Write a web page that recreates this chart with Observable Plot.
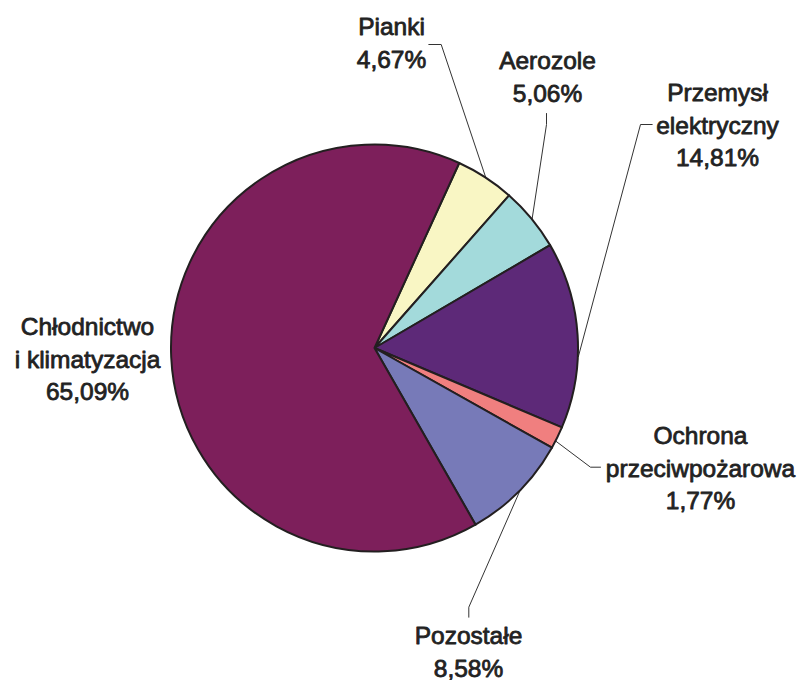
<!DOCTYPE html>
<html>
<head>
<meta charset="utf-8">
<script src="https://cdn.jsdelivr.net/npm/d3@7"></script>
<script src="https://cdn.jsdelivr.net/npm/@observablehq/plot@0.6"></script>
<style>
  html, body { margin: 0; padding: 0; background: #ffffff; }
</style>
</head>
<body>
<div id="chart"></div>
<script>
// Slices in clockwise order, starting just right of 12 o'clock
const categories = ["Pianki", "Aerozole", "Przemysł elektryczny", "Ochrona przeciwpożarowa", "Pozostałe", "Chłodnictwo i klimatyzacja"];
const shares = [4.67, 5.06, 14.81, 1.77, 8.58, 65.09];
const labelLines = [
  ["Pianki"],
  ["Aerozole"],
  ["Przemysł", "elektryczny"],
  ["Ochrona", "przeciwpożarowa"],
  ["Pozostałe"],
  ["Chłodnictwo", "i klimatyzacja"]
];

// Styling
const sliceColors = ["#f9f6c4", "#a3dadb", "#5d2978", "#f07f7f", "#777ab8", "#7d1f5b"];
const outline = "#231f20";
const textColor = "#222222";

// Geometry of the pie in plot units (1 unit = 1 px)
const pieGeom = { cx: 374.5, cy: 348, r: 203.5, startDeg: 24.6 };

// Label placement: text block position (centre x, top y),
// leader polyline running from the label toward the slice, and a small
// angular nudge of the leader's attachment point on the rim
const labelLayout = [
  { x: 391, y: 11.5, leader: [[428.3, 44], [440.7, 44]], nudge: 0 },
  { x: 547, y: 45.3, leader: [[546, 113], [546, 124]], nudge: 0 },
  { x: 717, y: 77.6, leader: [[651.7, 124], [640, 124]], nudge: 6 },
  { x: 700, y: 420.3, leader: [[600, 466.7], [590, 466.7]], nudge: 1 },
  { x: 468, y: 620.6, leader: [[468.3, 616.7], [468.3, 606.7]], nudge: 0 },
  { x: 87, y: 311.6, leader: null, nudge: 0 }
];

const pctFormat = v => v.toFixed(2).replace(".", ",") + "%";

const start = pieGeom.startDeg * Math.PI / 180;
const arcs = d3.pie().sort(null).value(d => d).startAngle(start).endAngle(start + 2 * Math.PI)(shares);

// Label rows
const labels = categories.map((c, i) => ({
  category: c,
  text: [...labelLines[i], pctFormat(shares[i])].join("\n"),
  x: labelLayout[i].x,
  y: labelLayout[i].y
}));

// Leader line vertices, ending on the rim at the slice's mid angle
const leaderRows = [];
categories.forEach((c, i) => {
  const lay = labelLayout[i];
  if (!lay.leader) return;
  lay.leader.forEach(([x, y]) => leaderRows.push({ category: c, x, y }));
  const a = (arcs[i].startAngle + arcs[i].endAngle) / 2 + lay.nudge * Math.PI / 180;
  leaderRows.push({
    category: c,
    x: pieGeom.cx + pieGeom.r * Math.sin(a),
    y: pieGeom.cy - pieGeom.r * Math.cos(a)
  });
});

// Pie slices, positioned through the plot's x/y scales
function pieSlices(index, scales) {
  const cx = scales.x(pieGeom.cx);
  const cy = scales.y(pieGeom.cy);
  const r = scales.x(pieGeom.cx + pieGeom.r) - cx;
  const arcGen = d3.arc().innerRadius(0).outerRadius(r);
  const g = d3.create("svg:g").attr("transform", `translate(${cx},${cy})`);
  g.selectAll("path")
    .data(arcs)
    .join("path")
    .attr("d", arcGen)
    .attr("fill", (d, i) => sliceColors[i])
    .attr("stroke", outline)
    .attr("stroke-width", 2)
    .attr("stroke-linejoin", "round");
  return g.node();
}

const chart = Plot.plot({
  width: 797,
  height: 680,
  margin: 0,
  style: { background: "#ffffff" },
  x: { domain: [0, 797], range: [0, 797], axis: null },
  y: { domain: [0, 680], range: [0, 680], axis: null },
  marks: [
    Plot.line(leaderRows, {
      x: "x", y: "y", z: "category",
      stroke: "#333333", strokeWidth: 1, curve: "linear"
    }),
    pieSlices,
    Plot.text(labels, {
      x: "x", y: "y", text: "text",
      lineAnchor: "top", lineHeight: 1.33,
      textAnchor: "middle",
      fontSize: 24.5,
      fontFamily: "Liberation Sans, Arial, sans-serif",
      fill: textColor,
      stroke: textColor,
      strokeWidth: 0.8
    })
  ]
});

document.getElementById("chart").appendChild(chart);
</script>
</body>
</html>
